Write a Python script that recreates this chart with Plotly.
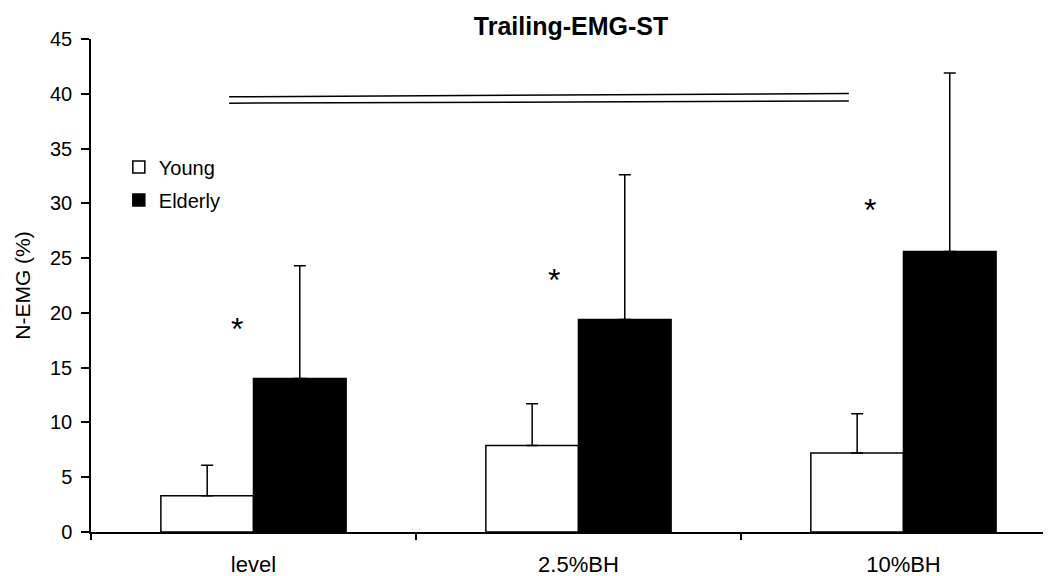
import plotly.graph_objects as go

categories = ["level", "2.5%BH", "10%BH"]
young = [3.3, 7.9, 7.2]
young_sd = [2.8, 3.8, 3.6]
elderly = [14.0, 19.4, 25.6]
elderly_sd = [10.3, 13.2, 16.3]

star_x = [-0.05, 0.925, 1.897]
star_y = [18.9, 23.4, 29.8]

sig_x = [-0.075, 1.832]
sig_upper = [39.72, 40.03]
sig_lower = [39.14, 39.35]

y_ticks = [0, 5, 10, 15, 20, 25, 30, 35, 40, 45]

FONT = "Liberation Sans, Arial, sans-serif"

fig = go.Figure()
fig.add_trace(go.Bar(
    name="Young", x=categories, y=young, legendgroup="y",
    marker=dict(color="white", line=dict(color="black", width=1.5)),
    error_y=dict(type="data", array=young_sd, arrayminus=[0] * 3, symmetric=False,
                 color="black", thickness=1.5, width=6),
))
fig.add_trace(go.Bar(
    name="Elderly", x=categories, y=elderly, legendgroup="e",
    marker=dict(color="black", line=dict(color="black", width=1.5)),
    error_y=dict(type="data", array=elderly_sd, arrayminus=[0] * 3, symmetric=False,
                 color="black", thickness=1.5, width=6),
))

for ys in (sig_upper, sig_lower):
    fig.add_shape(type="line", xref="x", yref="y", x0=sig_x[0], x1=sig_x[1],
                  y0=ys[0], y1=ys[1], line=dict(color="black", width=1.5))

for sx, sy in zip(star_x, star_y):
    fig.add_annotation(x=sx, y=sy, xref="x", yref="y", text="*", showarrow=False,
                       font=dict(family=FONT, size=32, color="black"), yshift=-4)

fig.update_layout(
    width=1043, height=568,
    margin=dict(l=83, r=0, t=31, b=44),
    paper_bgcolor="white", plot_bgcolor="white",
    barmode="group", bargap=0.43, bargroupgap=0,
    title=dict(text="<b>Trailing-EMG-ST</b>", x=563 / 1043, xanchor="center",
               y=1 - 18 / 568, yanchor="middle",
               font=dict(family=FONT, size=25, color="black")),
    font=dict(family=FONT, color="black"),
    legend=dict(x=0.029, y=0.78, xanchor="left", yanchor="top",
                font=dict(family=FONT, size=20, color="black"),
                bgcolor="rgba(0,0,0,0)", traceorder="grouped", tracegroupgap=4),
    xaxis=dict(type="category", range=[-0.5, 2.454], showline=True, linecolor="black",
               linewidth=1.5, ticks="outside", tickson="boundaries", ticklen=6,
               tickcolor="black", tickwidth=1.5, showgrid=False, zeroline=False,
               tickfont=dict(family=FONT, size=22, color="black"), ticklabelstandoff=12),
    yaxis=dict(range=[0, 45], tickvals=y_ticks, showline=True, linecolor="black",
               linewidth=1.5, ticks="outside", ticklen=8, tickcolor="black", tickwidth=1.5,
               showgrid=False, zeroline=False,
               tickfont=dict(family=FONT, size=20, color="black"), ticklabelstandoff=5,
               title=dict(text="N-EMG (%)", font=dict(family=FONT, size=21, color="black"),
                          standoff=14)),
)

fig.write_html("out.html")
